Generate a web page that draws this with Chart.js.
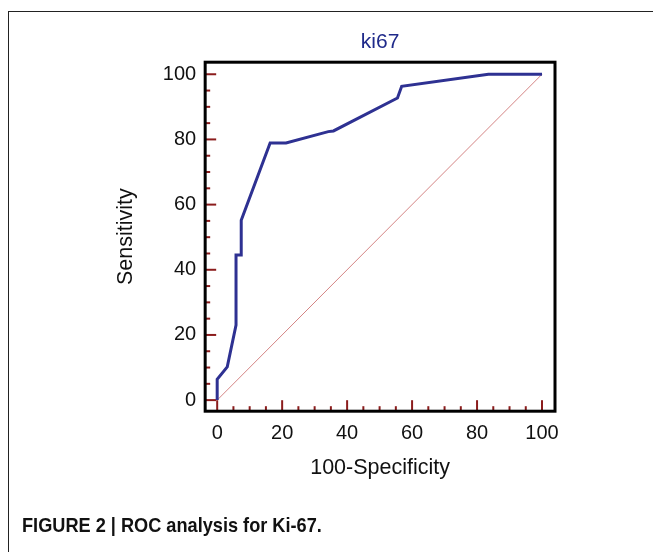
<!DOCTYPE html>
<html>
<head>
<meta charset="utf-8">
<script src="https://cdn.jsdelivr.net/npm/chart.js@4/dist/chart.umd.min.js"></script>
<style>
  html, body { margin:0; padding:0; background:#fff; }
  #wrap { position:relative; width:653px; height:552px; overflow:hidden; }
  #frame { position:absolute; left:8px; top:11px; width:700px; height:600px;
    border-left:1.5px solid #222; border-top:1.5px solid #222; }
  #cap { position:absolute; left:22px; top:513px; font:bold 21px "Liberation Sans",Arial,sans-serif;
    color:#111; white-space:nowrap; transform-origin:0 0; transform:scaleX(0.865); }
  canvas { position:absolute; left:0; top:0; }
</style>
</head>
<body>
<div id="wrap">
  <div id="frame"></div>
  <canvas id="roc" width="653" height="552"></canvas>
  <div id="cap">FIGURE 2 | ROC analysis for Ki-67.</div>
</div>
<script>
'use strict';

/* ── DATA ────────────────────────────────────────────────── */
const FPR = [0, 0,   3.1,  5.8, 5.8,  7.4,  7.4,  16.3, 21.2, 34.2, 35.8, 55.5, 56.8, 83.5, 100];
const TPR = [0, 6.4, 10.2, 23,  44.5, 44.5, 55.2, 78.9, 78.9, 82.4, 82.6, 92.7, 96.3, 100,  100];
const REF_X = [0, 100];
const REF_Y = [0, 100];
const TICK_LABELS = [0, 20, 40, 60, 80, 100];
const MINOR_STEP = 5;

const TITLE = 'ki67';
const X_TITLE = '100-Specificity';
const Y_TITLE = 'Sensitivity';

/* ── HELPERS ─────────────────────────────────────────────── */
const pts = (xs, ys) => xs.map((x, i) => ({ x, y: ys[i] }));
const allTicks = () => {
  const t = [];
  for (let v = 0; v <= 100; v += MINOR_STEP) t.push({ value: v });
  return t;
};

/* ── PLUGIN: box + inner tick marks ──────────────────────── */
const boxTicks = {
  id: 'boxTicks',
  beforeDatasetsDraw(chart) {
    const { ctx, chartArea: a, scales: { x, y } } = chart;
    ctx.save();
    ctx.strokeStyle = '#8b1c1c';
    ctx.lineWidth = 2;
    allTicks().forEach(t => {
      const len = TICK_LABELS.includes(t.value) ? 11 : 5;
      const py = y.getPixelForValue(t.value);
      ctx.beginPath(); ctx.moveTo(a.left, py); ctx.lineTo(a.left + len, py); ctx.stroke();
      const px = x.getPixelForValue(t.value);
      ctx.beginPath(); ctx.moveTo(px, a.bottom); ctx.lineTo(px, a.bottom - len); ctx.stroke();
    });
    ctx.restore();
  },
  afterDraw(chart) {
    const { ctx, chartArea: a } = chart;
    ctx.save();
    ctx.strokeStyle = '#000';
    ctx.lineWidth = 3;
    ctx.strokeRect(a.left, a.top, a.right - a.left, a.bottom - a.top);
    ctx.restore();
  }
};

/* ── CHART ───────────────────────────────────────────────── */
Chart.defaults.font.family = "'Liberation Sans', Arial, sans-serif";
Chart.defaults.color = '#111';

new Chart(document.getElementById('roc'), {
  type: 'scatter',
  data: {
    datasets: [
      { data: pts(FPR, TPR), showLine: true, borderColor: '#2e3192', borderWidth: 3,
        pointRadius: 0, tension: 0, borderJoinStyle: 'miter' },
      { data: pts(REF_X, REF_Y), showLine: true, borderColor: '#d48484', borderWidth: 1,
        pointRadius: 0 }
    ]
  },
  options: {
    responsive: false, animation: false,
    layout: { padding: { left: 100, right: 98, top: 20, bottom: 71 } },
    plugins: {
      legend: { display: false },
      tooltip: { enabled: false },
      title: { display: true, text: TITLE, fullSize: false, color: '#1f2a8a',
        font: { size: 21, weight: 'normal' }, padding: { top: 10, bottom: 7 } }
    },
    scales: {
      x: {
        type: 'linear', min: -3.7, max: 104,
        afterBuildTicks: s => { s.ticks = allTicks(); },
        ticks: { font: { size: 20 }, padding: 10, maxRotation: 0, autoSkip: false,
          callback: v => TICK_LABELS.includes(v) ? String(v) : '' },
        grid: { display: false, drawTicks: false },
        border: { display: false },
        title: { display: true, text: X_TITLE, font: { size: 21.5 }, padding: { top: 0, bottom: 0 } }
      },
      y: {
        type: 'linear', min: -3.4, max: 103.7,
        afterBuildTicks: s => { s.ticks = allTicks(); },
        ticks: { font: { size: 20 }, padding: 9, autoSkip: false,
          callback: v => TICK_LABELS.includes(v) ? String(v) : '' },
        grid: { display: false, drawTicks: false },
        border: { display: false },
        title: { display: true, text: Y_TITLE, font: { size: 21.5 }, padding: { top: 13, bottom: 15 } }
      }
    }
  },
  plugins: [boxTicks]
});
</script>
</body>
</html>
